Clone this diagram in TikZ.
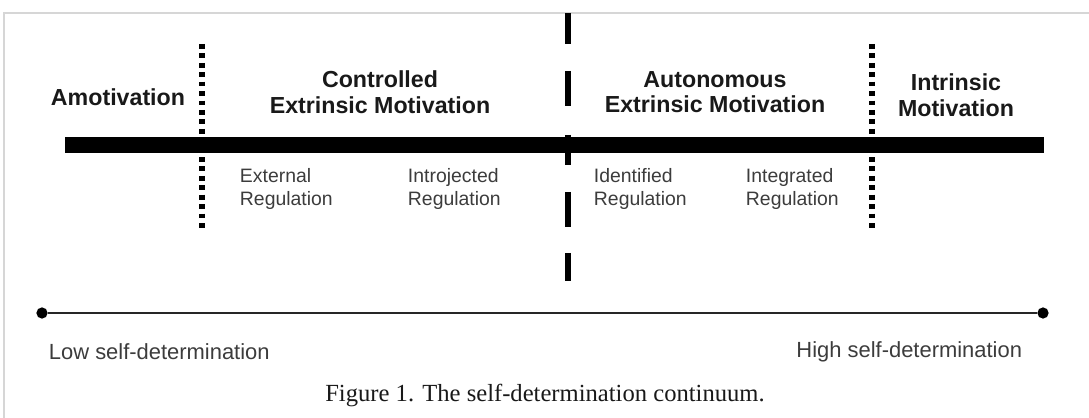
\documentclass[tikz,border=0pt]{standalone}
\usepackage{fontspec}
\setmainfont{Liberation Serif}
\setsansfont{Liberation Sans}
\usetikzlibrary{positioning}
\definecolor{FrameGray}{HTML}{D6D6D6}
\definecolor{LabelGray}{HTML}{3C3C3C}

\begin{document}
\begin{tikzpicture}[x=0.025cm, y=-0.025cm,
    phase/.style={font=\sffamily\bfseries\fontsize{16.5}{18.2}\selectfont, align=center, text=black!90},
    reg/.style={font=\sffamily\fontsize{13.8}{15.8}\selectfont, align=left, anchor=west, text=LabelGray},
    pole/.style={font=\sffamily\fontsize{15.6}{18}\selectfont, text=LabelGray},
    dotline/.style={line width=3.8pt, dash pattern=on 3.4pt off 3.3pt},
    endpt/.style={circle, fill=black, inner sep=0pt, minimum size=8pt}]
        \useasboundingbox (0,0) rectangle (1089,418);
        % frame
        \draw[FrameGray, line width=1.4pt] (4,418) -- (4,13) -- (1089,13);
        % main continuum bar
        \coordinate (barL) at (65,145);
        \coordinate (barR) at (1044,145);
        \draw[line width=12pt] (barL) -- (barR);
        % dividers
        \draw[dotline] (202,44) -- (202,229);
        \draw[dotline] (872,44) -- (872,229);
        \foreach \ya/\yb in {13/44, 71/106, 135/165, 192/227, 253/281}
          \draw[line width=4.8pt] (568,\ya) -- (568,\yb);
        % types of motivation
        \node[phase] (amot) at (118,97) {Amotivation};
        \node[phase] (ctrl) at (380,92) {Controlled\\Extrinsic Motivation};
        \node[phase] (auto) at (715,92) {Autonomous\\Extrinsic Motivation};
        \node[phase] (intr) at (956,95) {Intrinsic\\Motivation};
        % regulatory styles
        \node[reg] (ext) at (235,189) {External\\Regulation};
        \node[reg] (intro) at (403,189) {Introjected\\Regulation};
        \node[reg] (ident) at (589,189) {Identified\\Regulation};
        \node[reg] (integ) at (741,189) {Integrated\\Regulation};
        % self-determination axis
        \node[endpt] (lineL) at (42,313) {};
        \node[endpt] (lineR) at (1043,313) {};
        \draw[line width=1.5pt, black!85] (lineL) -- (lineR);
        \node[pole, anchor=west] (low) at (44,352) {Low self-determination};
        \node[pole, anchor=east] (high) at (1027,352) {High self-determination};
        \node[font=\fontsize{17.5}{20}\selectfont, text=black!90] (caption) at (545,395) {Figure 1. The self-determination continuum.};
      \end{tikzpicture}
\end{document}
